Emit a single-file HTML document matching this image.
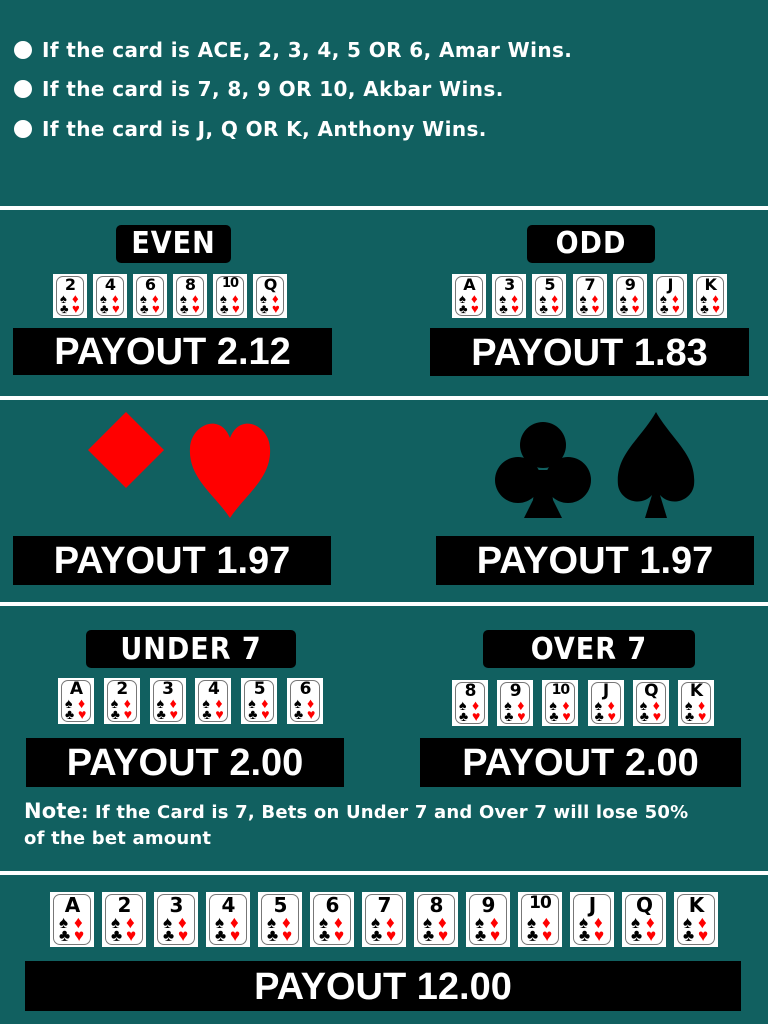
<!DOCTYPE html>
<html><head><meta charset="utf-8">
<style>
body{margin:0;width:768px;height:1024px;background:#116060;position:relative;overflow:hidden;font-family:"Liberation Sans",sans-serif;}
.abs{position:absolute;}
.sep{position:absolute;left:0;width:768px;height:4px;background:#fff;}
.bul{position:absolute;left:14px;color:#fff;font-weight:bold;font-size:20px;line-height:24px;font-family:"DejaVu Sans","Liberation Sans",sans-serif;letter-spacing:0.4px;}
.bul i{display:inline-block;width:18px;height:18px;border-radius:50%;background:#fff;vertical-align:-2px;margin-right:10px;}
.lbl{position:absolute;background:#000;border-radius:5px;color:#fff;font-weight:bold;font-size:30px;text-align:center;font-family:"DejaVu Sans Condensed","Liberation Sans",sans-serif;letter-spacing:1px;}
.pay{position:absolute;background:#000;color:#fff;font-weight:bold;font-size:38px;text-align:center;}
.card{position:absolute;background:#fff;}
.card .in{position:absolute;left:3px;top:2px;right:3px;bottom:2px;border:1.5px solid #777;border-radius:7px;box-sizing:border-box;}
.card .r{position:absolute;left:0;right:0;text-align:center;font-weight:bold;color:#000;font-family:"DejaVu Sans","Liberation Sans",sans-serif;letter-spacing:-1px;}
.card .s{position:absolute;}
.note{position:absolute;left:24px;color:#fff;font-weight:bold;font-size:18px;line-height:26px;font-family:"DejaVu Sans","Liberation Sans",sans-serif;letter-spacing:0.2px;}
</style></head><body>
<div class="bul" style="top:38px"><i></i>If the card is ACE, 2, 3, 4, 5 OR 6, Amar Wins.</div>
<div class="bul" style="top:77px"><i></i>If the card is 7, 8, 9 OR 10, Akbar Wins.</div>
<div class="bul" style="top:117px"><i></i>If the card is J, Q OR K, Anthony Wins.</div>

<div class="sep" style="top:206px"></div>
<div class="lbl" style="left:116px;top:225px;width:115px;height:38px;line-height:38px">EVEN</div>
<div class="lbl" style="left:527px;top:225px;width:128px;height:38px;line-height:38px">ODD</div>
<div class="pay" style="left:13px;top:328px;width:319px;height:47px;line-height:48px">PAYOUT 2.12</div>
<div class="pay" style="left:430px;top:328px;width:319px;height:48px;line-height:50px">PAYOUT 1.83</div>

<div class="sep" style="top:396px"></div>
<svg class="abs" style="left:0;top:400px" width="768" height="130">
<path d="M126,12 L164,50 L126,88 L88,50 Z" fill="#f00"/>
<path d="M230,118 C215,95 188,78 190,48 C191,25 220,12 230,38 C240,12 269,25 270,48 C272,78 245,95 230,118 Z" fill="#f00"/>
<g fill="#000"><circle cx="543" cy="45" r="23"/><circle cx="518" cy="80" r="23"/><circle cx="568" cy="80" r="23"/><path d="M537,70 L549,70 L553,100 L562,118 L524,118 L533,100 Z"/></g>
<path fill="#000" d="M656,12 C640,40 615,55 618,85 C620,100 640,108 652,95 L645,118 L667,118 L660,95 C672,108 692,100 694,85 C697,55 672,40 656,12 Z"/>
</svg>
<div class="pay" style="left:13px;top:536px;width:318px;height:49px;line-height:50px">PAYOUT 1.97</div>
<div class="pay" style="left:436px;top:536px;width:318px;height:49px;line-height:50px">PAYOUT 1.97</div>

<div class="sep" style="top:602px"></div>
<div class="lbl" style="left:86px;top:630px;width:210px;height:38px;line-height:40px">UNDER 7</div>
<div class="lbl" style="left:483px;top:630px;width:212px;height:38px;line-height:40px">OVER 7</div>
<div class="pay" style="left:26px;top:738px;width:318px;height:49px;line-height:50px">PAYOUT 2.00</div>
<div class="pay" style="left:420px;top:738px;width:321px;height:49px;line-height:50px">PAYOUT 2.00</div>
<div class="note" style="top:798px"><span style="font-size:21px">Note</span>: If the Card is 7, Bets on Under 7 and Over 7 will lose 50%<br>of the bet amount</div>

<div class="sep" style="top:871px"></div>
<div class="pay" style="left:25px;top:961px;width:716px;height:50px;line-height:52px">PAYOUT 12.00</div>

<script>
const evenRanks=["2","4","6","8","10","Q"];
const oddRanks=["A","3","5","7","9","J","K"];
const underRanks=["A","2","3","4","5","6"];
const overRanks=["8","9","10","J","Q","K"];
const allRanks=["A","2","3","4","5","6","7","8","9","10","J","Q","K"];
function row(ranks,x0,step,y,w,h,name){
  ranks.forEach((r,i)=>{
    const c=document.createElement('div');
    c.className='card';
    
    
    c.style.left=(x0+i*step)+'px';c.style.top=y+'px';c.style.width=w+'px';c.style.height=h+'px';
    const fs=Math.round(h*0.36)-(r.length>1?3:0);
    const sy=Math.round(h*0.40), sy2=Math.round(h*0.64);
    const fz=Math.round(h*0.30);
    c.innerHTML='<div class="in"></div><div class="r" style="top:'+Math.round(h*0.06)+'px;font-size:'+fs+'px;line-height:'+fs+'px">'+r+'</div>'+
      '<div class="s" style="left:'+Math.round(w*0.2)+'px;top:'+sy+'px;font-size:'+fz+'px;line-height:'+fz+'px">♠</div>'+
      '<div class="s" style="left:'+Math.round(w*0.55)+'px;top:'+sy+'px;color:#f00;font-size:'+fz+'px;line-height:'+fz+'px">♦</div>'+
      '<div class="s" style="left:'+Math.round(w*0.2)+'px;top:'+sy2+'px;font-size:'+fz+'px;line-height:'+fz+'px">♣</div>'+
      '<div class="s" style="left:'+Math.round(w*0.55)+'px;top:'+sy2+'px;color:#f00;font-size:'+fz+'px;line-height:'+fz+'px">♥</div>';
    document.body.appendChild(c);
  });
}
row(evenRanks,53,40,274,34,44,'even');
row(oddRanks,452,40.2,274,34,44,'odd');
row(underRanks,58,45.8,678,36,46,'under');
row(overRanks,452,45.2,680,36,46,'over');
row(allRanks,50,52,892,44,55,'all');
</script>
</body></html>
